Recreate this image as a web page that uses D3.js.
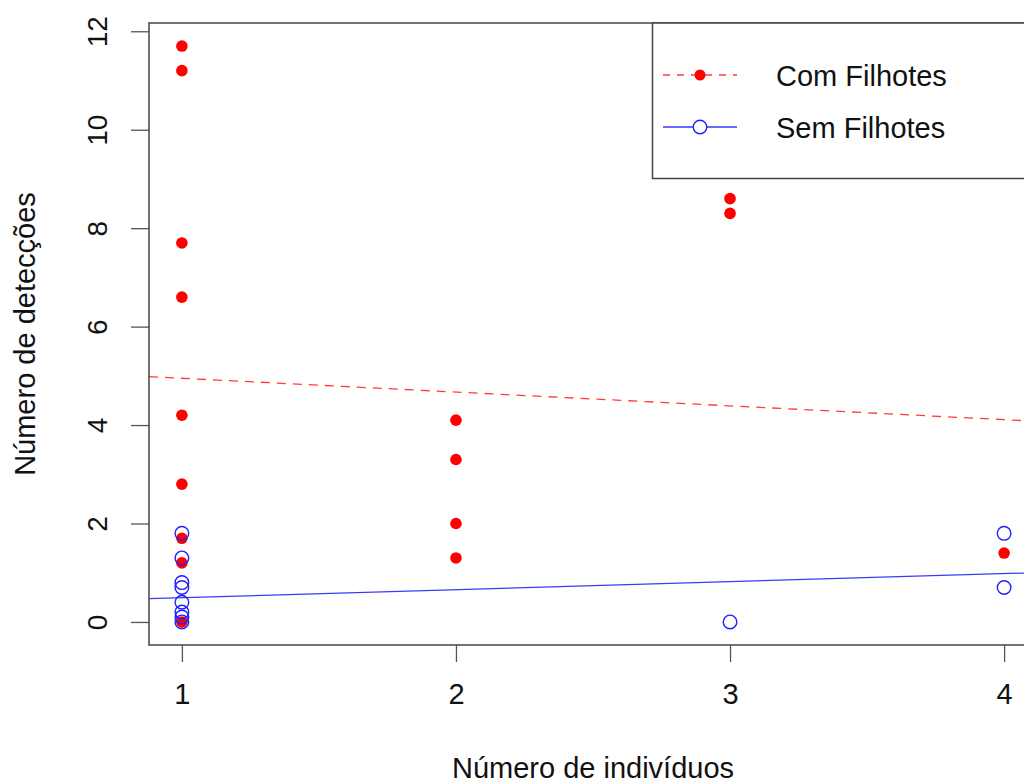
<!DOCTYPE html>
<html>
<head>
<meta charset="utf-8">
<script src="https://cdn.jsdelivr.net/npm/d3@7"></script>
<style>
  body { margin: 0; background: #fff; }
  svg { display: block; }
  text { font-family: "Liberation Sans", Arial, Helvetica, sans-serif; fill: #111; }
</style>
</head>
<body>
<svg width="1024" height="784"></svg>
<script>
// Com Filhotes (red dots)
var comX = [1, 1, 1, 1, 1, 1, 1, 1, 1, 2, 2, 2, 2, 3, 3, 4]
var comY = [11.7, 11.2, 7.7, 6.6, 4.2, 2.8, 1.7, 1.2, 0, 4.1, 3.3, 2.0, 1.3, 8.6, 8.3, 1.4]

// Sem Filhotes (blue open circles)
var semX = [1, 1, 1, 1, 1, 1, 1, 1, 3, 4, 4]
var semY = [1.8, 1.3, 0.8, 0.7, 0.4, 0.2, 0.1, 0, 0, 1.8, 0.7]

// fitted lines (intercept, slope)
var fitNames = ["Com Filhotes", "Sem Filhotes"]
var fitIntercepts = [5.23, 0.33]
var fitSlopes = [-0.28, 0.163]

var xTicks = [1, 2, 3, 4]
var yTicks = [0, 2, 4, 6, 8, 10, 12]

var svg = d3.select("svg")

// R-style limits: data range plus 4% on each side
var scX = d3.scaleLinear().domain([0.88, 4.12]).range([149, 1037])
var scY = d3.scaleLinear().domain([-0.468, 12.168]).range([645, 23])

var x0 = scX.range()[0], x1 = scX.range()[1]
var y0 = scY.range()[1], y1 = scY.range()[0]

svg.append("defs").append("clipPath").attr("id", "plotclip")
  .append("rect").attr("x", x0).attr("y", y0)
  .attr("width", x1 - x0).attr("height", y1 - y0)

// y axis
var yAxis = svg.append("g")
  .attr("transform", "translate(" + x0 + ",0)")
  .call(d3.axisLeft(scY).tickValues(yTicks).tickSize(18).tickFormat(d3.format("d")))
yAxis.select(".domain").remove()
yAxis.selectAll("line").attr("stroke", "#555").attr("stroke-width", 1.3)
yAxis.selectAll("text")
  .attr("x", null).attr("dy", null)
  .attr("transform", "translate(-42,0) rotate(-90)")
  .attr("text-anchor", "middle")
  .style("font-size", "28px")

// x axis
var xAxis = svg.append("g")
  .attr("transform", "translate(0," + y1 + ")")
  .call(d3.axisBottom(scX).tickValues(xTicks).tickSize(17).tickFormat(d3.format("d")))
xAxis.select(".domain").remove()
xAxis.selectAll("line").attr("stroke", "#555").attr("stroke-width", 1.3)
xAxis.selectAll("text")
  .attr("y", 59).attr("dy", null)
  .style("font-size", "29px")

// axis titles
svg.append("text")
  .attr("x", (x0 + x1) / 2).attr("y", 778)
  .attr("text-anchor", "middle")
  .style("font-size", "29px")
  .text("Número de indivíduos")

svg.append("text")
  .attr("transform", "translate(35," + ((y0 + y1) / 2) + ") rotate(-90)")
  .attr("text-anchor", "middle")
  .style("font-size", "29px")
  .text("Número de detecções")

// regression lines
var plot = svg.append("g").attr("clip-path", "url(#plotclip)")
var xd = scX.domain()
var lineMaker = d3.line().x(d => scX(d[0])).y(d => scY(d[1]))
var fitStyles = [{ color: "#ff3c3c", dash: "9,7" }, { color: "#3a3aff", dash: null }]
fitIntercepts.forEach(function(b0, i) {
  var pts = xd.map(v => [v, b0 + fitSlopes[i] * v])
  plot.append("path")
    .attr("d", lineMaker(pts))
    .attr("fill", "none")
    .attr("stroke", fitStyles[i].color)
    .attr("stroke-width", 1.3)
    .attr("stroke-dasharray", fitStyles[i].dash)
})

// points
plot.append("g").attr("id", "com")
  .selectAll("circle")
  .data(comX.map((v, i) => [v, comY[i]])).enter().append("circle")
  .attr("cx", d => scX(d[0]))
  .attr("cy", d => scY(d[1]))
  .attr("r", 5.8)
  .attr("fill", "#ff0000")

plot.append("g").attr("id", "sem")
  .selectAll("circle")
  .data(semX.map((v, i) => [v, semY[i]])).enter().append("circle")
  .attr("cx", d => scX(d[0]))
  .attr("cy", d => scY(d[1]))
  .attr("r", 6.8)
  .attr("fill", "none")
  .attr("stroke", "#2020ff")
  .attr("stroke-width", 1.4)

// plot box
svg.append("rect")
  .attr("x", x0).attr("y", y0)
  .attr("width", x1 - x0).attr("height", y1 - y0)
  .attr("fill", "none")
  .attr("stroke", "#444")
  .attr("stroke-width", 1.5)

// legend
var leg = svg.append("g")
leg.append("rect")
  .attr("x", 652.5).attr("y", y0)
  .attr("width", 420).attr("height", 155.5)
  .attr("fill", "#fff")
  .attr("stroke", "#444")
  .attr("stroke-width", 1.5)

var legY = [75, 127]
fitNames.forEach(function(name, i) {
  leg.append("line")
    .attr("x1", 663).attr("x2", 737)
    .attr("y1", legY[i]).attr("y2", legY[i])
    .attr("stroke", fitStyles[i].color)
    .attr("stroke-width", 1.3)
    .attr("stroke-dasharray", i == 0 ? "7,7" : null)
  if (i == 0) {
    leg.append("circle").attr("cx", 700).attr("cy", legY[i]).attr("r", 5.5).attr("fill", "#ff0000")
  } else {
    leg.append("circle").attr("cx", 700).attr("cy", legY[i]).attr("r", 6.8)
      .attr("fill", "#fff").attr("stroke", "#2020ff").attr("stroke-width", 1.4)
  }
  leg.append("text")
    .attr("x", 776).attr("y", legY[i] + 11)
    .style("font-size", "29px")
    .text(name)
})
</script>
</body>
</html>
